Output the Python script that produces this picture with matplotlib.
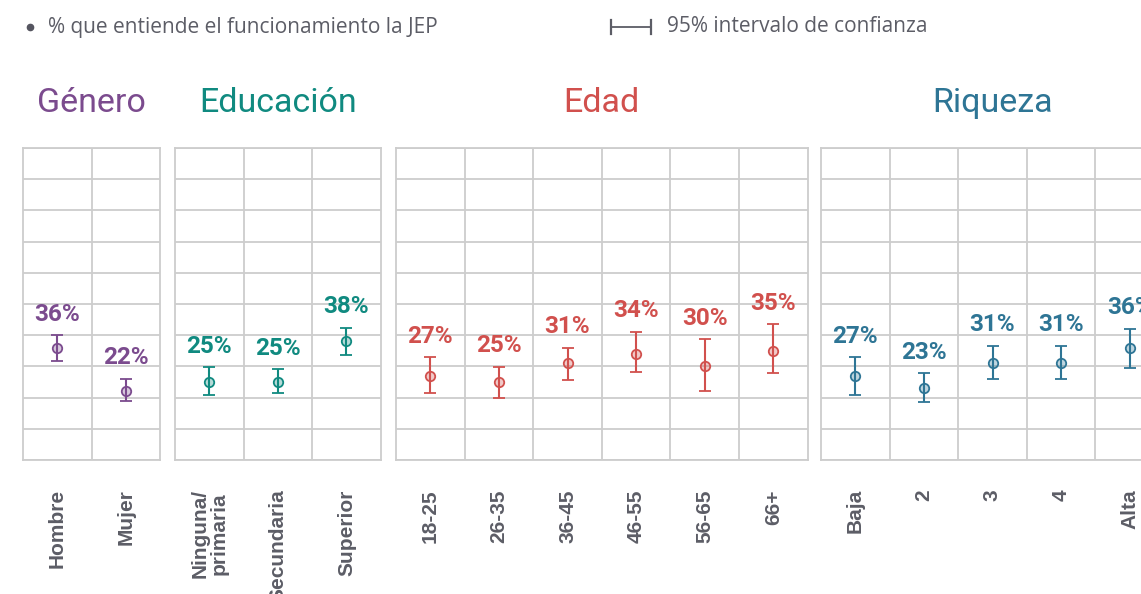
import matplotlib
matplotlib.use("Agg")
import matplotlib.pyplot as plt
from matplotlib.lines import Line2D
from matplotlib.colors import to_rgba

# ---------------- data ----------------
groups = ["Género", "Educación", "Edad", "Riqueza"]
genero_cats = ["Hombre", "Mujer"]
genero_val = [36, 22]
genero_lo = [31.8, 19.0]
genero_hi = [40.0, 26.1]

educ_cats = ["Ninguna/\nprimaria", "Secundaria", "Superior"]
educ_val = [25, 25, 38]
educ_lo = [20.7, 21.6, 33.8]
educ_hi = [29.7, 29.1, 42.4]

edad_cats = ["18-25", "26-35", "36-45", "46-55", "56-65", "66+"]
edad_val = [27, 25, 31, 34, 30, 35]
edad_lo = [21.6, 20.0, 25.7, 28.1, 22.1, 27.8]
edad_hi = [32.9, 29.8, 35.9, 41.0, 38.7, 43.5]

riq_cats = ["Baja", "2", "3", "4", "Alta"]
riq_val = [27, 23, 31, 31, 36]
riq_lo = [20.8, 18.5, 26.0, 26.0, 29.5]
riq_hi = [32.9, 27.8, 36.6, 36.6, 42.0]

legend_point = "% que entiende el funcionamiento la JEP"
legend_ci = "95% intervalo de confianza"

# ---------------- style ----------------
colors = ["#7b4b8e", "#108a80", "#d1504d", "#2e7595"]
grid_c = "#cdcdcd"
label_c = "#5c5d66"

W, H = 1141, 594
fig = plt.figure(figsize=(W / 100, H / 100), dpi=100)

col_w = 68.6
lefts = [23, 175, 396, 821]
top_px, bot_px = 148, 460

panels = [
    (genero_cats, genero_val, genero_lo, genero_hi),
    (educ_cats, educ_val, educ_lo, educ_hi),
    (edad_cats, edad_val, edad_lo, edad_hi),
    (riq_cats, riq_val, riq_lo, riq_hi),
]

for gi, (cats, vals, lo, hi) in enumerate(panels):
    n = len(cats)
    c = colors[gi]
    ax = fig.add_axes([lefts[gi] / W, 1 - bot_px / H, n * col_w / W, (bot_px - top_px) / H])
    ax.set_xlim(-0.5, n - 0.5)
    ax.set_ylim(0, 100)
    ax.set_yticks(range(0, 101, 10))
    ax.set_yticklabels([])
    ax.set_xticks(range(n))
    ax.set_xticklabels(cats, rotation=90, fontsize=15, fontweight="bold",
                       color=label_c, family="Liberation Sans",
                       va="top", ha="center", linespacing=1.0)
    ax.set_xticks([i + 0.5 for i in range(n - 1)], minor=True)
    ax.tick_params(axis="both", which="both", length=0)
    ax.tick_params(axis="x", which="major", pad=21)
    ax.grid(True, axis="y", which="major", color=grid_c, lw=1.3)
    ax.grid(True, axis="x", which="minor", color=grid_c, lw=1.3)
    ax.set_axisbelow(True)
    for s in ax.spines.values():
        s.set_color(grid_c)
        s.set_linewidth(1.3)
    x = list(range(n))
    yerr = [[v - l for v, l in zip(vals, lo)], [h - v for v, h in zip(vals, hi)]]
    ax.errorbar(x, vals, yerr=yerr, fmt="o", color=c, ecolor=c, elinewidth=1.5,
                capsize=4.6, capthick=1.5, markersize=6.8, mfc=to_rgba(c, 0.3),
                mec=c, mew=1.3, zorder=3)
    for xi, v, h in zip(x, vals, hi):
        ax.annotate(f"{v}%", (xi, h), xytext=(0, 10.5), textcoords="offset points",
                    ha="center", va="baseline", fontsize=17.5, fontweight="bold",
                    color=c, family="Roboto", annotation_clip=False)
    ax.set_title(groups[gi], color=c, fontsize=24.5, family="Roboto", pad=26)

# ---------------- legend ----------------
fig.add_artist(Line2D([30 / W], [1 - 27 / H], marker="o", markersize=4.5,
                      color="#555560", linestyle="none"))
fig.text(48 / W, 1 - 27 / H, legend_point, fontsize=15, color=label_c,
         family="Open Sans", va="center", ha="left")
yc = 1 - 27 / H
fig.add_artist(Line2D([611 / W, 651 / W], [yc, yc], color=label_c, lw=1.3))
for xp in (611, 651):
    fig.add_artist(Line2D([xp / W, xp / W], [1 - 20 / H, 1 - 34 / H], color=label_c, lw=1.6))
fig.text(667 / W, 1 - 27 / H, legend_ci, fontsize=15, color=label_c,
         family="Open Sans", va="center", ha="left")

fig.savefig("out.png", dpi=100)
